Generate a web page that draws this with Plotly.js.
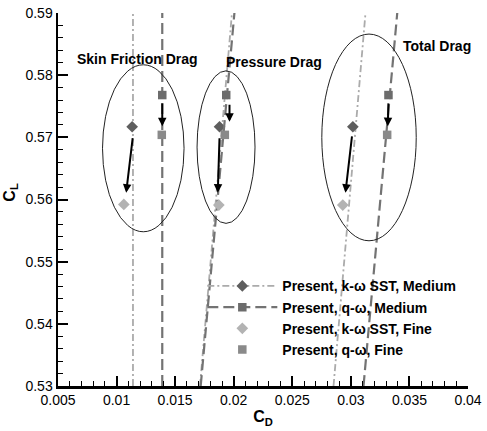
<!DOCTYPE html>
<html>
<head>
<meta charset="utf-8">
<script src="https://cdn.plot.ly/plotly-3.0.1.min.js"></script>
<style>html,body{margin:0;padding:0;background:#fff;}#chart{width:487px;height:431px;}</style>
</head>
<body>
<div id="chart"></div>
<script>
// ---- data ----
const groups = ['Skin Friction Drag', 'Pressure Drag', 'Total Drag'];
const lineCL = [0.53, 0.59];
// reference lines (C_D at C_L = 0.53 and 0.59)
const kwLinesCD = [[0.0114, 0.0114], [0.01712, 0.01985], [0.02852, 0.03125]];
const qwLinesCD = [[0.0139, 0.0139], [0.01718, 0.02006], [0.03108, 0.03396]];
// markers
const kwMediumCD = [0.01133, 0.01879, 0.03017];
const kwMediumCL = [0.5717, 0.5717, 0.5717];
const qwMediumCD = [0.0139, 0.01936, 0.03321];
const qwMediumCL = [0.5768, 0.5768, 0.5768];
const kwFineCD = [0.01062, 0.01873, 0.02931];
const kwFineCL = [0.5592, 0.5591, 0.5591];
const qwFineCD = [0.01386, 0.01924, 0.0331];
const qwFineCL = [0.5704, 0.5704, 0.5704];
// arrows (medium -> fine)
const kwArrowFromCD = [0.01139, 0.01879, 0.03011];
const kwArrowFromCL = [0.5701, 0.5701, 0.5704];
const kwArrowToCD = [0.01082, 0.01864, 0.02954];
const kwArrowToCL = [0.5611, 0.5611, 0.5611];
const qwArrowFromCD = [0.0139, 0.01964, 0.03321];
const qwArrowFromCL = [0.5757, 0.5755, 0.5757];
const qwArrowToCD = [0.0139, 0.01964, 0.03315];
const qwArrowToCL = [0.5718, 0.5725, 0.5718];
// ellipses round each group
const ellipseCD0 = [0.0088, 0.01687, 0.02752];
const ellipseCD1 = [0.01576, 0.02182, 0.03558];
const ellipseCL0 = [0.55481, 0.55616, 0.55336];
const ellipseCL1 = [0.58167, 0.5807, 0.58661];
// group labels
const labelCD = [0.0118, 0.02341, 0.03733];
const labelCL = [0.58259, 0.5821, 0.58462];
// ticks
const xTickVals = [0.005, 0.01, 0.015, 0.02, 0.025, 0.03, 0.035, 0.04];
const xTickText = ['0.005', '0.01', '0.015', '0.02', '0.025', '0.03', '0.035', '0.04'];
const yTickVals = [0.53, 0.54, 0.55, 0.56, 0.57, 0.58, 0.59];
const yTickText = ['0.53', '0.54', '0.55', '0.56', '0.57', '0.58', '0.59'];
const seriesNames = ['Present, k-\u03c9 SST, Medium', 'Present, q-\u03c9, Medium', 'Present, k-\u03c9 SST, Fine', 'Present, q-\u03c9, Fine'];

// ---- build traces ----
function combined(linesCD, mx, my, color) {
  const xs = [], ys = [], cols = [];
  mx.forEach((x, i) => { xs.push(x, null); ys.push(my[i], null); cols.push(color, 'rgba(0,0,0,0)'); });
  linesCD.forEach(l => { xs.push(l[0], l[1], null); ys.push(lineCL[0], lineCL[1], null); cols.push('rgba(0,0,0,0)', 'rgba(0,0,0,0)', 'rgba(0,0,0,0)'); });
  return { xs, ys, cols };
}
const kw = combined(kwLinesCD, kwMediumCD, kwMediumCL, '#5e5e5e');
const qw = combined(qwLinesCD, qwMediumCD, qwMediumCL, '#6c6c6c');

const traces = [
  { x: kw.xs, y: kw.ys, name: seriesNames[0], mode: 'lines+markers', connectgaps: false,
    line: { color: '#ababab', width: 1.8, dash: '7px,3px,2px,3px' },
    marker: { symbol: 'diamond', size: 9, color: kw.cols } },
  { x: qw.xs, y: qw.ys, name: seriesNames[1], mode: 'lines+markers', connectgaps: false,
    line: { color: '#737373', width: 2.2, dash: '11px,5px' },
    marker: { symbol: 'square', size: 8.5, color: qw.cols } },
  { x: kwFineCD, y: kwFineCL, name: seriesNames[2], mode: 'markers',
    marker: { symbol: 'diamond', size: 9, color: '#b3b3b3' } },
  { x: qwFineCD, y: qwFineCL, name: seriesNames[3], mode: 'markers',
    marker: { symbol: 'square', size: 8.5, color: '#8a8a8a' } }
];

const annotations = [];
function addArrows(fx, fy, tx, ty) {
  fx.forEach((_, i) => annotations.push({
    x: tx[i], y: ty[i], ax: fx[i], ay: fy[i], xref: 'x', yref: 'y', axref: 'x', ayref: 'y',
    text: '', showarrow: true, arrowhead: 2, arrowsize: 0.85, arrowwidth: 2, arrowcolor: '#000', standoff: 0, startstandoff: 0
  }));
}
addArrows(kwArrowFromCD, kwArrowFromCL, kwArrowToCD, kwArrowToCL);
addArrows(qwArrowFromCD, qwArrowFromCL, qwArrowToCD, qwArrowToCL);
groups.forEach((g, i) => annotations.push({
  x: labelCD[i], y: labelCL[i], xref: 'x', yref: 'y', text: g, showarrow: false,
  font: { family: 'Liberation Sans, Arial, sans-serif', size: 14, color: '#000', weight: 'bold' }
}));
annotations.push({
  x: -0.118, y: 0.52, xref: 'paper', yref: 'paper', xanchor: 'center', yanchor: 'middle',
  text: 'C<sub>L</sub>', showarrow: false, textangle: -90,
  font: { family: 'Liberation Sans, Arial, sans-serif', size: 16, color: '#000', weight: 'bold' }
});

const shapes = groups.map((g, i) => ({
  type: 'circle', xref: 'x', yref: 'y', x0: ellipseCD0[i], x1: ellipseCD1[i], y0: ellipseCL0[i], y1: ellipseCL1[i],
  line: { color: '#222', width: 1 }
}));

const axisFont = { family: 'Liberation Sans, Arial, sans-serif', size: 14, color: '#000' };
const layout = {
  width: 487, height: 431,
  margin: { l: 58, r: 19, t: 13, b: 45 },
  paper_bgcolor: '#fff', plot_bgcolor: '#fff',
  font: axisFont,
  showlegend: true,
  legend: { x: 0.352, y: 0.31, xanchor: 'left', yanchor: 'top', bgcolor: 'rgba(0,0,0,0)', borderwidth: 0,
    itemwidth: 70, font: { family: 'Liberation Sans, Arial, sans-serif', size: 14, color: '#000', weight: 'bold' } },
  xaxis: {
    range: [0.005, 0.04], showgrid: false, zeroline: false, showline: true, linecolor: '#000', linewidth: 2.5, mirror: false,
    tickmode: 'array', tickvals: xTickVals, ticktext: xTickText,
    ticks: 'inside', ticklen: 10, tickwidth: 2, tickcolor: '#000', tickfont: axisFont,
    minor: { tickmode: 'linear', tick0: 0.005, dtick: 0.001, ticks: 'inside', ticklen: 5, tickwidth: 1, tickcolor: '#000', showgrid: false },
    title: { text: 'C<sub>D</sub>', font: { family: 'Liberation Sans, Arial, sans-serif', size: 16, color: '#000', weight: 'bold' }, standoff: 4 }
  },
  yaxis: {
    range: [0.53, 0.59], showgrid: false, zeroline: false, showline: true, linecolor: '#000', linewidth: 2.5, mirror: false,
    tickmode: 'array', tickvals: yTickVals, ticktext: yTickText,
    ticks: 'inside', ticklen: 10, tickwidth: 2, tickcolor: '#000', tickfont: axisFont,
    minor: { tickmode: 'linear', tick0: 0.53, dtick: 0.002, ticks: 'inside', ticklen: 5, tickwidth: 1, tickcolor: '#000', showgrid: false }
  },
  shapes: shapes,
  annotations: annotations
};

Plotly.newPlot('chart', traces, layout, { displayModeBar: false, staticPlot: true });
</script>
</body>
</html>
